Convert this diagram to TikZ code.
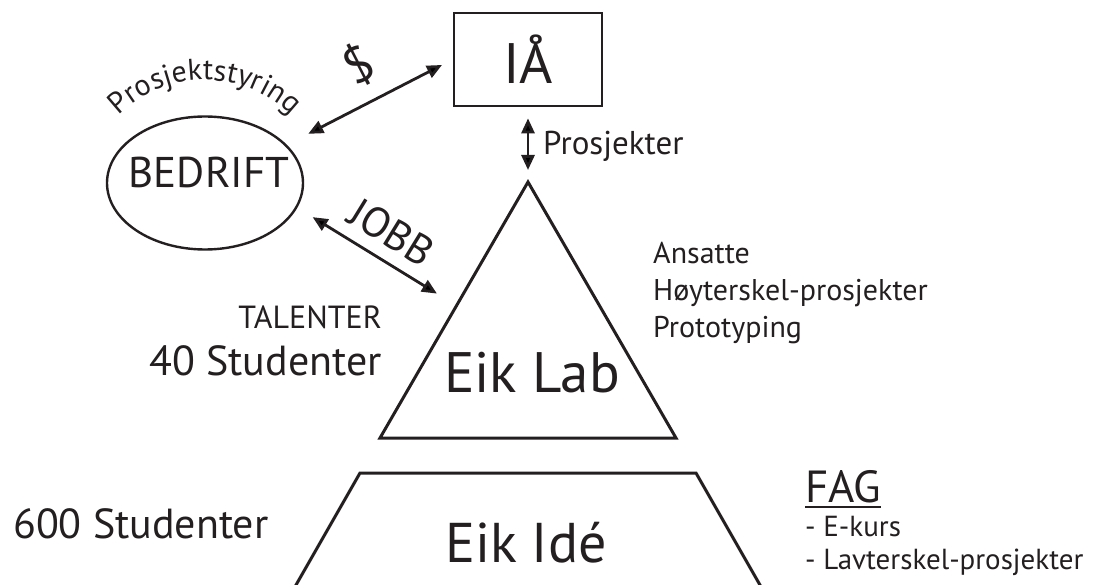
\documentclass[tikz,border=0pt]{standalone}
\usepackage{fontspec}
\setmainfont{PT Sans}
\usepackage{xcolor}
\definecolor{ink}{RGB}{35,31,32}
\usetikzlibrary{arrows.meta,positioning,calc,decorations.text,shapes.geometric}
\newcommand\arcfont{\fontsize{30}{30}\selectfont}

\begin{document}
\begin{tikzpicture}[x=1pt,y=-1pt,
 every node/.style={inner sep=0pt,text=ink},
 sz/.style={font=\fontsize{#1}{#1}\selectfont},
 unit/.style={rectangle,draw=ink,line width=2.7pt,minimum width=148pt,minimum height=93pt,sz=57},
 oval/.style={ellipse,draw=ink,line width=2.4pt,minimum width=196pt,minimum height=133pt},
 ar/.style={draw=ink,{Triangle[length=15pt,width=13pt]}-{Triangle[length=15pt,width=13pt]},line width=2.8pt},
 tier/.style={draw=ink,line width=3pt}]
\useasboundingbox (0,0) rectangle (1094,585);

% top: IA and the company
\node [unit] (ia) at (528,59.5) {IÅ};
\node [oval] (bedrift) at (205,183) {};
\node [sz=43] (bedtxt) at (209,172) {BEDRIFT};
\path [decorate,decoration={text along path,text={|\arcfont|Prosjektstyring},
   text align=center,text color=ink}]
 (205,203) ++(224:123) arc[start angle=224,end angle=316,radius=123];

% the two levels
\coordinate (labtop) at (528,182);
\coordinate (labL) at (380,438);
\coordinate (labR) at (676,438);
\draw [tier] (labtop) -- (labR) -- (labL) -- cycle;
\node [sz=57,anchor=base] (lab) at (532,392) {Eik Lab};
\coordinate (ideL) at (292,592);
\coordinate (ideTL) at (360,473);
\coordinate (ideTR) at (696,473);
\coordinate (ideR) at (764,592);
\draw [tier] (ideL) -- (ideTL) -- (ideTR) -- (ideR);
\node [sz=56,anchor=base] (ide) at (526,562) {Eik Idé};

% connectors
\coordinate (labside) at ($(labtop)!0.483!(labL)$);
\draw [ar,shorten <=24pt,shorten >=12pt] (bedrift.25) -- (ia.west)
 node[pos=0.54,sloped,above=14pt,sz=50] (cash) {\$};
\draw [ar,shorten <=11pt,shorten >=12pt] (ia.south) -- (labtop);
\node [sz=33,anchor=base west] (prj) at (543,155) {Prosjekter};
\draw [ar,shorten <=18pt,shorten >=23pt] (bedrift.-15) -- (labside)
 node[pos=0.5,sloped,above=12pt,sz=42] (jobb) {JOBB};

% side texts
\node [sz=32,anchor=base east] (tal) at (382,328) {TALENTER};
\node [sz=42,anchor=base east] (s40) at (382,375) {40 Studenter};
\node [sz=42,anchor=base west] (s600) at (13,538) {600 Studenter};
\node [sz=30,anchor=base west] (ans) at (653,263) {Ansatte};
\node [sz=30,anchor=base west] (hoy) at ([yshift=-37pt]ans.base west) {Høyterskel-prosjekter};
\node [sz=30,anchor=base west] (pro) at ([yshift=-37pt]hoy.base west) {Prototyping};
\node [sz=45,anchor=base west] (fag) at (805,502) {FAG};
\draw [draw=ink,line width=2.6pt] ([yshift=-5pt]fag.base west) -- ([yshift=-5pt]fag.base east);
\node [sz=29,anchor=base west] (ek) at ([yshift=-34pt]fag.base west) {- E-kurs};
\node [sz=29,anchor=base west] (lav) at ([yshift=-33pt]ek.base west) {- Lavterskel-prosjekter};
\end{tikzpicture}
\end{document}
